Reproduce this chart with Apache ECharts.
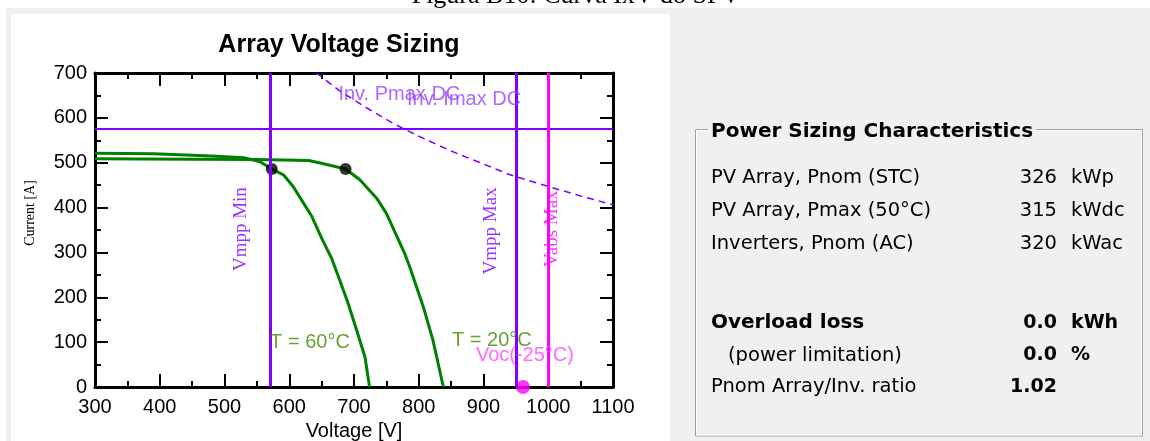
<!DOCTYPE html>
<html><head><meta charset="utf-8">
<script src="https://cdn.jsdelivr.net/npm/echarts@6/dist/echarts.min.js"></script>
<style>html,body{margin:0;padding:0;background:#fff;overflow:hidden}#c{width:1150px;height:441px;}</style>
</head><body><div id="c"></div>
<script>
// ---------- DATA ----------
const voltageTicks = [300, 400, 500, 600, 700, 800, 900, 1000, 1100];
const currentTicks = [0, 100, 200, 300, 400, 500, 600, 700];
// I-V curve at T = 60°C  [V, A]
const curveT60 = [[300,521],[390,520],[480,515],[530,511],[555,502],[573,486],[591,473],[606,447],[622,410],[635,380],[650,332],[666,285],[678,238],[691,186],[704,127],[717,67],[724,0]];
// I-V curve at T = 20°C  [V, A]
const curveT20 = [[300,509],[450,508],[550,507],[630,505],[658,496],[687,486],[709,462],[735,421],[750,387],[768,330],[779,295],[786,268],[807,179],[822,104],[838,0]];
// Inverter Pmax DC limit curve [V, A]
const invPmaxDC = [[642,700],[680,658],[720,622],[760,588],[800,559],[850,526],[900,497],[941,473],[1000,447],[1050,426],[1100,406]];
const mppPoints = [[573,486],[687,486]];
const vocPoint = [[961,0]];
const vmppMin = 570, vmppMax = 950, vabsMax = 1000, invImaxDC = 576;
const annotationTexts = ['Vmpp Min','Vmpp Max','Vabs Max','Inv. Pmax DC','Inv. Imax DC','T = 60°C','T = 20°C','Voc(-25°C)'];
const panelTitle = 'Power Sizing Characteristics';
const panelLabels = ['PV Array, Pnom (STC)','PV Array, Pmax (50°C)','Inverters, Pnom (AC)','Overload loss','(power limitation)','Pnom Array/Inv. ratio'];
const panelValues = ['326','315','320','0.0','0.0','1.02'];
const panelUnits = ['kWp','kWdc','kWac','kWh','%',''];

// ---------- LAYOUT / STYLE ----------
const PURPLE = '#8000ff', MAGENTA = '#ff00ff', GREEN = '#008000';
const annStyle = [
  {at:[525,352], rot:90, color:PURPLE, font:'Liberation Serif', size:19},
  {at:[912,348], rot:90, color:PURPLE, font:'Liberation Serif', size:19},
  {at:[1006,353], rot:90, color:MAGENTA, font:'Liberation Serif', size:19},
  {at:[770,652], rot:0, color:'#9a44ff', font:'Liberation Sans', size:20},
  {at:[870,640], rot:0, color:'#9a44ff', font:'Liberation Sans', size:20},
  {at:[632,100], rot:0, color:'#3f8c00', font:'Liberation Sans', size:20},
  {at:[913,104], rot:0, color:'#3f8c00', font:'Liberation Sans', size:20},
  {at:[964,71], rot:0, color:'#ff44ff', font:'Liberation Sans', size:20}
];
const rowY = [178, 211, 243.5, 323, 355.5, 387];
const rowX = [711, 711, 711, 711, 728, 711];
const rowBold = [false,false,false,true,false,false];
const valBold = [false,false,false,true,true,true];

const chart = echarts.init(document.getElementById('c'), null, {renderer:'canvas'});

const frameAxis = (pos, isX, showLabel) => ({
  type:'value', position:pos,
  min: isX ? voltageTicks[0] : currentTicks[0],
  max: isX ? voltageTicks[voltageTicks.length-1] : currentTicks[currentTicks.length-1],
  interval: 100,
  splitLine:{show:false},
  axisLine:{show:true, onZero:false, lineStyle:{color:'#000', width:3}},
  axisTick:{show:true, inside:true, length:13, lineStyle:{color:'#000', width:2}},
  minorTick:{show:true, splitNumber:2, length:6, lineStyle:{color:'#000', width:2}},
  axisLabel:{show:showLabel, color:'#000', fontFamily:'Liberation Sans', fontSize:20, margin: isX ? 10 : 8, formatter:v=>String(v)},
});

const xMain = Object.assign(frameAxis('bottom', true, true), {
  name:'Voltage [V]', nameLocation:'middle', nameGap:33,
  nameTextStyle:{color:'#000', fontFamily:'Liberation Sans', fontSize:20}
});
const yMain = Object.assign(frameAxis('left', false, true), {
  name:'Current [A]', nameLocation:'middle', nameGap:58,
  nameTextStyle:{color:'#000', fontFamily:'Liberation Serif', fontSize:14, padding:[0,0,0,34]}
});

const sans = 'px "DejaVu Sans"';
const graphics = [
  {type:'rect', z:-10, shape:{x:6, y:8, width:1144, height:433}, style:{fill:'#f0f0f0'}},
  {type:'rect', z:-9, shape:{x:11, y:14, width:659, height:427}, style:{fill:'#ffffff'}},
  {type:'text', z:5, x:576, y:-4, style:{text:'Figura B10: Curva IxV do SFV', fill:'#000', font:'26px "Liberation Serif"', textAlign:'center', textVerticalAlign:'middle'}},
  {type:'text', z:5, x:339, y:45, style:{text:'Array Voltage Sizing', fill:'#000', font:'bold 25px "Liberation Sans"', textAlign:'center', textVerticalAlign:'middle'}},
  {type:'rect', z:1, shape:{x:695.5, y:129.5, width:447, height:306.5}, style:{fill:null, stroke:'#a0a0a0', lineWidth:1}},
  {type:'rect', z:1, shape:{x:696.5, y:130.5, width:445, height:304.5}, style:{fill:null, stroke:'#ffffff', lineWidth:1}},
  {type:'text', z:2, x:708, y:131.5, style:{text:panelTitle, fill:'#000', font:'bold 20'+sans, textAlign:'left', textVerticalAlign:'middle', backgroundColor:'#f0f0f0', padding:[0,3]}}
];
panelLabels.forEach((t,i)=>{
  graphics.push({type:'text', z:2, x:rowX[i], y:rowY[i], style:{text:t, fill:'#000', font:(rowBold[i]?'bold 20':'19.5')+sans, textAlign:'left', textVerticalAlign:'middle'}});
  graphics.push({type:'text', z:2, x:1057, y:rowY[i], style:{text:panelValues[i], fill:'#000', font:(valBold[i]?'bold 19':'19.5')+sans, textAlign:'right', textVerticalAlign:'middle'}});
  if (panelUnits[i]) graphics.push({type:'text', z:2, x:1071, y:rowY[i], style:{text:panelUnits[i], fill:'#000', font:(valBold[i]?'bold 19':'19.5')+sans, textAlign:'left', textVerticalAlign:'middle'}});
});

const option = {
  animation:false,
  backgroundColor:'transparent',
  grid:{left:95, top:73, width:518, height:314, containLabel:false, outerBoundsMode:'none'},
  xAxis:[xMain, frameAxis('top', true, false)],
  yAxis:[yMain, frameAxis('right', false, false)],
  graphic:graphics,
  series:[
    {type:'line', name:'Inv. Pmax DC', data:invPmaxDC, showSymbol:false, smooth:false, z:2,
     lineStyle:{color:PURPLE, width:1.5, type:[7,5]}, clip:true,
     markLine:{silent:true, symbol:'none', label:{show:false}, animation:false,
       data:[
         {yAxis:invImaxDC, lineStyle:{color:PURPLE, width:2, type:'solid'}},
         {xAxis:vmppMin, lineStyle:{color:PURPLE, width:3, type:'solid'}},
         {xAxis:vmppMax, lineStyle:{color:PURPLE, width:3, type:'solid'}},
         {xAxis:vabsMax, lineStyle:{color:MAGENTA, width:3, type:'solid'}}
       ]}},
    {type:'line', name:'T = 60°C', data:curveT60, showSymbol:false, z:3, lineStyle:{color:GREEN, width:3}},
    {type:'line', name:'T = 20°C', data:curveT20, showSymbol:false, z:3, lineStyle:{color:GREEN, width:3}},
    {type:'scatter', name:'MPP', data:mppPoints, symbol:'circle', symbolSize:12, z:4, itemStyle:{color:'#000'}},
    {type:'scatter', name:'Voc', data:vocPoint, symbol:'circle', symbolSize:14, z:4, clip:false, itemStyle:{color:MAGENTA}},
    {type:'scatter', name:'labels', z:5, symbolSize:1, silent:true, itemStyle:{color:'rgba(0,0,0,0)'},
     data: annotationTexts.map((t,i)=>({value:annStyle[i].at, label:{show:true, formatter:t, position:'inside', rotate:annStyle[i].rot, color:annStyle[i].color, fontFamily:annStyle[i].font, fontSize:annStyle[i].size}}))}
  ]
};
chart.setOption(option);
</script></body></html>
